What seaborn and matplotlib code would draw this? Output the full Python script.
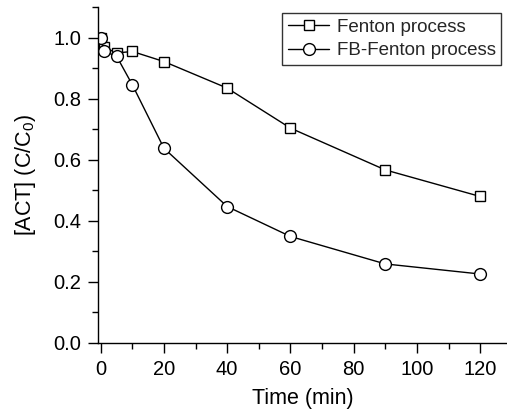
import matplotlib
matplotlib.use("Agg")
import matplotlib.pyplot as plt
import seaborn as sns
import pandas as pd
from matplotlib.ticker import MultipleLocator, FormatStrFormatter

time_fenton = [0, 1, 5, 10, 20, 40, 60, 90, 120]
fenton = [1.0, 0.97, 0.95, 0.955, 0.922, 0.835, 0.704, 0.567, 0.48]
time_fb = [0, 1, 5, 10, 20, 40, 60, 90, 120]
fb_fenton = [1.0, 0.955, 0.94, 0.846, 0.638, 0.447, 0.349, 0.259, 0.226]
labels = ["Fenton process", "FB-Fenton process"]

sns.set_theme(style="ticks")
plt.rcParams['font.family'] = ['Liberation Sans', 'DejaVu Sans']
plt.rcParams['mathtext.fontset'] = 'custom'
plt.rcParams['mathtext.rm'] = 'Liberation Sans'
plt.rcParams['mathtext.it'] = 'Liberation Sans'

df_f = pd.DataFrame({"t": time_fenton, "v": fenton})
df_b = pd.DataFrame({"t": time_fb, "v": fb_fenton})

fig = plt.figure(figsize=(5.07, 4.12), dpi=100)
ax = fig.add_axes([0.193, 0.1675, 0.807, 0.815])
sns.lineplot(data=df_f, x="t", y="v", marker="s", color="black",
             markerfacecolor="white", markeredgecolor="black", markeredgewidth=1.0,
             markersize=7.5, linewidth=1.0, ax=ax, label=labels[0])
sns.lineplot(data=df_b, x="t", y="v", marker="o", color="black",
             markerfacecolor="white", markeredgecolor="black", markeredgewidth=1.0,
             markersize=8.5, linewidth=1.0, ax=ax, label=labels[1])

ax.set_xlim(-0.9, 128.5)
ax.set_ylim(0, 1.1)
ax.xaxis.set_major_locator(MultipleLocator(20))
ax.xaxis.set_minor_locator(MultipleLocator(10))
ax.yaxis.set_major_locator(MultipleLocator(0.2))
ax.yaxis.set_minor_locator(MultipleLocator(0.1))
ax.yaxis.set_major_formatter(FormatStrFormatter('%.1f'))
ax.tick_params(which="major", length=7, width=1, labelsize=14.5, color="black",
               labelcolor="black", pad=5)
ax.tick_params(which="minor", length=4, width=1, color="black")
for s in ["top", "right"]:
    ax.spines[s].set_visible(False)
for s in ["left", "bottom"]:
    ax.spines[s].set_color("black")
    ax.spines[s].set_linewidth(1.0)
ax.set_xlabel("Time (min)", fontsize=15.5, color="black", labelpad=7)
ax.set_ylabel("[ACT] (C/C$_0$)", fontsize=15.5, color="black", labelpad=11)

leg = ax.legend(title=None, loc="upper right", fontsize=13.5, frameon=True, fancybox=False,
                edgecolor="black", borderaxespad=0.3, handlelength=2.2, handletextpad=0.4,
                labelspacing=0.35, borderpad=0.3)
leg.get_frame().set_linewidth(1.0)
for h in leg.legend_handles:
    h.set_markerfacecolor("white")
    h.set_markeredgecolor("black")

fig.savefig("out.png", dpi=100)
